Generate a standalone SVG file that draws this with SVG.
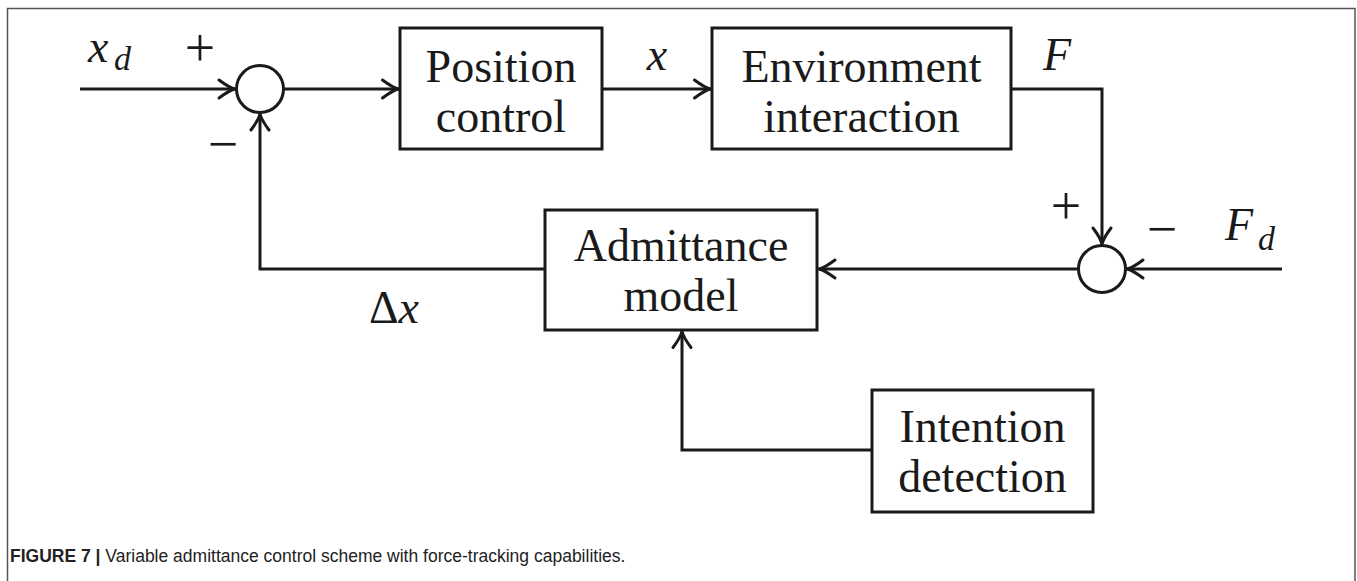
<svg xmlns="http://www.w3.org/2000/svg" width="1357" height="581" viewBox="0 0 1357 581">
<style>
.box{fill:#fff;stroke:#1a1a1a;stroke-width:3}
.sum{fill:#fff;stroke:#1a1a1a;stroke-width:3}
.lbl{font-family:"Liberation Serif","Times New Roman",serif;font-size:46px;fill:#1a1a1a;text-anchor:middle}
.math{font-family:"Liberation Serif","Times New Roman",serif;font-size:46px;font-style:italic;fill:#1a1a1a}
.sub{font-family:"Liberation Serif","Times New Roman",serif;font-size:34px;font-style:italic;fill:#1a1a1a}
.sign{font-family:"Liberation Serif","Times New Roman",serif;font-size:54px;fill:#1a1a1a;text-anchor:middle}
.wire{fill:none;stroke:#1a1a1a;stroke-width:3;marker-end:url(#arr)}
.cap{font-family:"Liberation Sans",Arial,sans-serif;font-size:17.5px;fill:#222}
</style>
<defs>
<marker id="arr" markerUnits="userSpaceOnUse" markerWidth="24" markerHeight="24" viewBox="-20 -12 24 24" refX="0" refY="0" orient="auto">
<path d="M-16 -9 Q-6 -1.5 0 0 Q-6 1.5 -16 9" fill="none" stroke="#1a1a1a" stroke-width="3" stroke-linejoin="round" stroke-linecap="round"/>
</marker>
</defs>
<rect width="1357" height="581" fill="#fff"/>
<path d="M7.5 590 V8.5 H1355 V590" fill="none" stroke="#555" stroke-width="1.5"/>

<g id="connectors">
<path class="wire" d="M80 89 H235"/>
<path class="wire" d="M283.5 89 H398.5"/>
<path class="wire" d="M602 89 H710.5"/>
<path class="wire" d="M1011 89 H1102 V244"/>
<path class="wire" d="M1282 269 H1127"/>
<path class="wire" d="M1078.5 269 H819"/>
<path class="wire" d="M545 269 H260 V114"/>
<path class="wire" d="M872 450 H682 V331.5"/>
</g>

<g id="sum1"><circle class="sum" cx="260" cy="89" r="23.5"/></g>
<g id="sum2"><circle class="sum" cx="1102" cy="269" r="23.5"/></g>

<g id="position-control">
<rect class="box" x="400" y="28" width="202" height="121"/>
<text class="lbl" x="501" y="82">Position</text>
<text class="lbl" x="501" y="132">control</text>
</g>
<g id="environment-interaction">
<rect class="box" x="712" y="28" width="299" height="121"/>
<text class="lbl" x="861.5" y="82">Environment</text>
<text class="lbl" x="861.5" y="132">interaction</text>
</g>
<g id="admittance-model">
<rect class="box" x="545" y="210" width="272" height="120"/>
<text class="lbl" x="681" y="261">Admittance</text>
<text class="lbl" x="681" y="311">model</text>
</g>
<g id="intention-detection">
<rect class="box" x="872" y="390" width="221" height="122"/>
<text class="lbl" x="982.5" y="442">Intention</text>
<text class="lbl" x="982.5" y="492">detection</text>
</g>

<g id="labels">
<text class="math" x="88" y="62">x</text>
<text class="sub" x="114" y="70">d</text>
<text class="sign" x="200" y="66">+</text>
<text class="sign" x="223" y="162">−</text>
<text class="math" x="657" y="70" text-anchor="middle">x</text>
<text class="math" x="1057" y="70" text-anchor="middle">F</text>
<text class="sign" x="1066" y="224">+</text>
<text class="sign" x="1162" y="247">−</text>
<text class="math" x="1225" y="240">F</text>
<text class="sub" x="1258" y="250">d</text>
<text x="369" y="323" font-family="'Liberation Serif','Times New Roman',serif" font-size="46" fill="#1a1a1a">Δ<tspan font-style="italic">x</tspan></text>
</g>

<text class="cap" x="10" y="562"><tspan font-weight="bold">FIGURE 7 |</tspan> Variable admittance control scheme with force-tracking capabilities.</text>
</svg>
